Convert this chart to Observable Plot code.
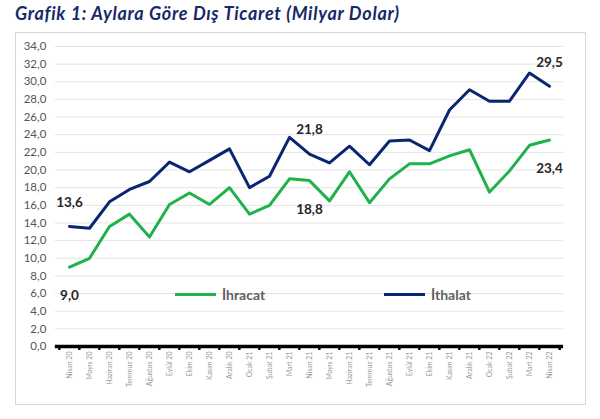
<!DOCTYPE html>
<html>
<head>
<meta charset="utf-8">
<script src="https://cdn.jsdelivr.net/npm/d3@7"></script>
<script src="https://cdn.jsdelivr.net/npm/@observablehq/plot@0.6"></script>
<style>
  html, body { margin: 0; padding: 0; background: #fff; }
  body { width: 600px; height: 419px; position: relative; overflow: hidden; font-family: Lato, "Open Sans", sans-serif; }
  #title { position: absolute; left: 15px; top: 2px; font: italic 700 18px Lato, sans-serif; letter-spacing: 0.7px; color: #17296a; white-space: nowrap; }
  #box { position: absolute; left: 15px; top: 32px; width: 571px; height: 373px; border: 1.5px solid #d6d6d6; box-sizing: border-box; }
  #chart { position: absolute; left: 0; top: 32px; }
  .leg { position: absolute; top: 286px; font: 700 14px Lato, sans-serif; color: #5f5f5f; display: flex; align-items: center; }
  .leg .sw { display: inline-block; width: 41px; height: 3px; margin-right: 6px; }
</style>
</head>
<body>
<div id="title">Grafik 1: Aylara Göre Dış Ticaret (Milyar Dolar)</div>
<div id="box"></div>
<div id="chart"></div>
<div class="leg" style="left:175px"><span class="sw" style="background:#1fb24a"></span>İhracat</div>
<div class="leg" style="left:384px"><span class="sw" style="background:#0b2670"></span>İthalat</div>
<script>
const months = ["Nisan 20","Mayıs 20","Haziran 20","Temmuz 20","Ağustos 20","Eylül 20","Ekim 20","Kasım 20","Aralık 20","Ocak 21","Şubat 21","Mart 21","Nisan 21","Mayıs 21","Haziran 21","Temmuz 21","Ağustos 21","Eylül 21","Ekim 21","Kasım 21","Aralık 21","Ocak 22","Şubat 22","Mart 22","Nisan 22"];
const ihracat = [9.0,10.0,13.6,15.0,12.4,16.1,17.4,16.1,18.0,15.0,16.0,19.0,18.8,16.5,19.8,16.3,19.0,20.7,20.7,21.6,22.3,17.5,19.9,22.8,23.4];
const ithalat = [13.6,13.4,16.4,17.8,18.7,20.9,19.8,21.1,22.4,18.0,19.3,23.7,21.8,20.8,22.7,20.6,23.3,23.4,22.2,26.8,29.1,27.8,27.8,31.0,29.5];
const yTicks = [0,2,4,6,8,10,12,14,16,18,20,22,24,26,28,30,32,34];
const labelIdx = [0, 12, 24];

const fmt = d => d.toFixed(1).replace(".", ",");
const rowsIhr = months.map((m, i) => ({m, v: ihracat[i]}));
const rowsIth = months.map((m, i) => ({m, v: ithalat[i]}));
const lblIhr = labelIdx.map(i => rowsIhr[i]);
const lblIth = labelIdx.map(i => rowsIth[i]);

const W = 600, ML = 54.8, MR = 36.9;
const step = (W - ML - MR) / months.length;

const plot = Plot.plot({
  width: W,
  height: 387,
  marginLeft: ML,
  marginRight: MR,
  marginTop: 14,
  marginBottom: 73,
  x: {type: "point", domain: months, padding: 0.5},
  y: {domain: [0, 34]},
  style: {fontFamily: "Lato, sans-serif", background: "transparent"},
  marks: [
    Plot.ruleY(yTicks, {stroke: "#e4e4e4", strokeWidth: 1}),
    Plot.axisY({ticks: yTicks, tickSize: 0, tickPadding: 9, tickFormat: fmt, fontSize: 11.5, fill: "#555", label: null}),
    Plot.axisX({tickSize: 0, tickPadding: 5, tickRotate: -90, fontSize: 7, fill: "#999", label: null}),
    Plot.line(rowsIhr, {x: "m", y: "v", stroke: "#1fb24a", strokeWidth: 3, curve: "linear"}),
    Plot.line(rowsIth, {x: "m", y: "v", stroke: "#0b2670", strokeWidth: 3, curve: "linear"}),
    Plot.ruleY([0], {stroke: "#000", strokeWidth: 3.5}),
    Plot.ruleX(months, {x: d => d, dx: -step / 2, y1: 0, y2: -0.45, stroke: "#000", strokeWidth: 2.5}),
    Plot.ruleX([months[months.length - 1]], {x: d => d, dx: step / 2, y1: 0, y2: -0.45, stroke: "#000", strokeWidth: 2.5}),
    Plot.text(lblIth, {x: "m", y: "v", text: d => fmt(d.v), dy: -24, fontSize: 13.5, fontWeight: "bold", fill: "#262626"}),
    Plot.text(lblIhr, {x: "m", y: "v", text: d => fmt(d.v), dy: 29, fontSize: 13.5, fontWeight: "bold", fill: "#262626"})
  ]
});
document.getElementById("chart").appendChild(plot);
</script>
</body>
</html>
